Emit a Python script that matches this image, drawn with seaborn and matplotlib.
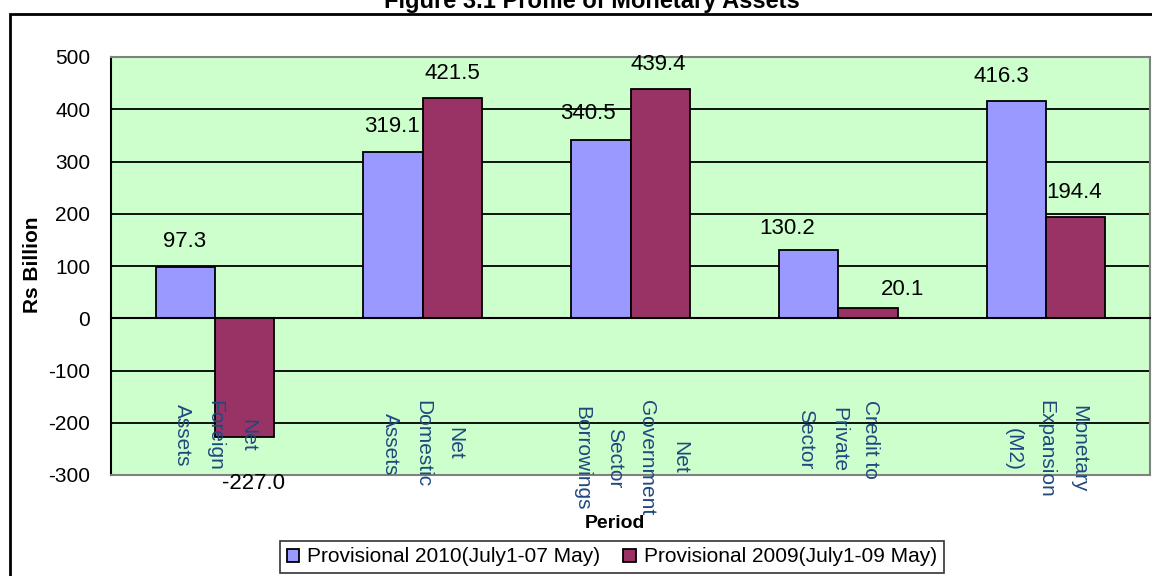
import matplotlib
matplotlib.use("Agg")
import matplotlib.pyplot as plt
from matplotlib.patches import Rectangle
import seaborn as sns
import pandas as pd

# chart data
categories = ["Net\nForeign\nAssets", "Net\nDomestic\nAssets",
              "Net\nGovernment\nSector\nBorrowings", "Credit to\nPrivate\nSector",
              "Monetary\nExpansion\n(M2)"]
series = ["Provisional 2010(July1-07 May)", "Provisional 2009(July1-09 May)"]
vals_2010 = [97.3, 319.1, 340.5, 130.2, 416.3]
vals_2009 = [-227.0, 421.5, 439.4, 20.1, 194.4]
yticks = [-300, -200, -100, 0, 100, 200, 300, 400, 500]

# label nudges (pixels) copied from how the labels sit in the original
offs_2010 = [(-1, 26), (-1, 25), (-13, 27), (-22, 22), (-15, 24)]
offs_2009 = [(9, -47), (0, 25), (-2, 24), (35, 18), (-2, 24)]

df = pd.DataFrame({"Period": categories * 2,
                   "value": vals_2010 + vals_2009,
                   "series": [series[0]] * 5 + [series[1]] * 5})

sns.set_style("white")
plt.rcParams["font.family"] = ["Liberation Sans", "DejaVu Sans"]
plt.rcParams["axes.unicode_minus"] = False
plt.rcParams["text.color"] = "black"
plt.rcParams["xtick.color"] = "black"
plt.rcParams["ytick.color"] = "black"

fig = plt.figure(figsize=(11.52, 5.76), dpi=100)
W, H = 1152, 576
ax = fig.add_axes([111 / W, 1 - 475 / H, (1150 - 111) / W, (475 - 57) / H])
ax.set_facecolor("#CCFFCC")

sns.barplot(data=df, x="Period", y="value", hue="series",
            palette=["#9999FF", "#993366"], saturation=1, edgecolor="black",
            linewidth=1.3, width=0.57, errorbar=None, ax=ax, zorder=2)

ax.set_ylim(-300, 500)
ax.set_yticks(yticks)
for y in yticks[1:-1]:
    ax.axhline(y, color="black", lw=1.3, zorder=1)
ax.axhline(-300, color="#808080", lw=1.5, zorder=4, clip_on=False)

for side in ["top", "right"]:
    ax.spines[side].set_color("#808080")
    ax.spines[side].set_linewidth(1.5)
ax.spines["left"].set_color("black")
ax.spines["left"].set_linewidth(1.5)
ax.spines["bottom"].set_position(("data", 0))
ax.spines["bottom"].set_color("black")
ax.spines["bottom"].set_linewidth(1.5)
ax.spines["bottom"].set_zorder(5)

ax.set_xlim(-0.5, 4.5)
ax.set_xticks(range(len(categories)))
ax.set_xticklabels(categories, rotation=270, color="#1F497D", fontsize=15,
                   linespacing=1.9, multialignment="center")
ax.set_xticks([i - 0.5 for i in range(len(categories) + 1)], minor=True)
ax.tick_params(axis="x", which="major", length=0, pad=59)
ax.tick_params(axis="x", which="minor", length=6, width=1.5, color="black", direction="out")
ax.tick_params(axis="y", length=6, width=1.5, color="black", direction="out",
               labelsize=15, pad=9)
ax.xaxis.set_zorder(6)
ax.set_xlabel("")
ax.set_ylabel("")

# data labels
for cont, vals, offs in zip(ax.containers, [vals_2010, vals_2009], [offs_2010, offs_2009]):
    for bar, v, (dx, dy) in zip(cont, vals, offs):
        x = bar.get_x() + bar.get_width() / 2
        end = bar.get_y() + bar.get_height()
        ax.annotate(f"{v:.1f}", (x, end), xytext=(dx, dy), textcoords="offset pixels",
                    ha="center", va="center", fontsize=16, zorder=7,
                    annotation_clip=False)

handles, labels = ax.get_legend_handles_labels()
if ax.get_legend() is not None:
    ax.get_legend().remove()
leg = fig.legend(handles, labels, loc="center", bbox_to_anchor=(612 / W, 1 - 557 / H),
                 ncol=2, frameon=True, fancybox=False, edgecolor="black",
                 fontsize=15, handlelength=0.6, handleheight=0.6,
                 columnspacing=1.1, handletextpad=0.4, borderpad=0.3)
leg.get_frame().set_linewidth(1.2)

fig.text(33 / W, 1 - 265 / H, "Rs Billion", rotation=90, ha="center", va="center",
         fontsize=15, fontweight="bold")
fig.text(615 / W, 1 - 523 / H, "Period", ha="center", va="center",
         fontsize=14, fontweight="bold", zorder=8)
fig.text(592 / W, 1 - 8 / H, "Figure 3.1 Profile of Monetary Assets", ha="center",
         va="baseline", fontsize=17, fontweight="bold")

# outer chart frame
fig.add_artist(Rectangle((10 / W, -0.1), 1.5, 1.1 - 14 / H, transform=fig.transFigure,
                         fill=False, edgecolor="black", lw=2, clip_on=False))

fig.savefig("out.png", dpi=100)
